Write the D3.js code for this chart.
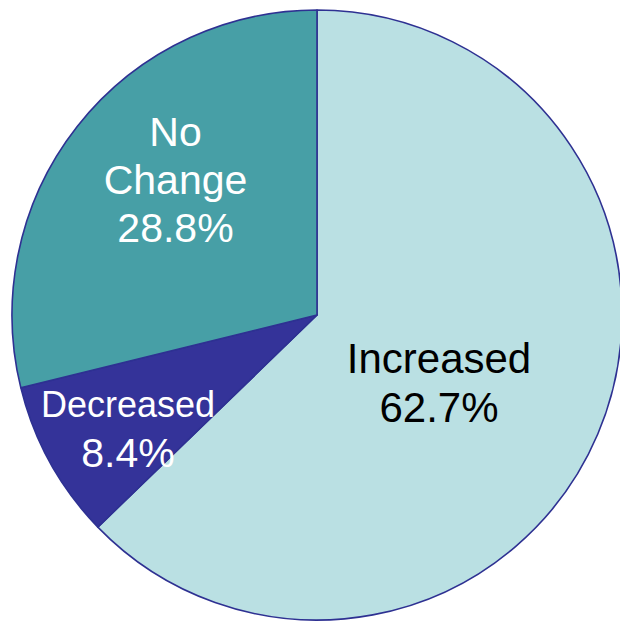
<!DOCTYPE html>
<html>
<head>
<meta charset="utf-8">
<script src="https://cdn.jsdelivr.net/npm/d3@7"></script>
<style>
  body { margin: 0; background: #fff; }
  svg { display: block; }
</style>
</head>
<body>
<div id="chart"></div>
<script>
// data
var categories = ["Increased", "Decreased", "No Change"];
var shares = [62.7, 8.4, 28.8];
var labelLines = [["Increased", "62.7%"], ["Decreased", "8.4%"], ["No", "Change", "28.8%"]];

var width = 620, height = 621;
var cx = 317, cy = 315, radius = 305;

var color = d3.scaleOrdinal()
  .domain(categories)
  .range(["#BAE0E3", "#343399", "#479FA6"]);

// label placement: centre x, first baseline, font size per line, line step, text colour
var labelStyle = {
  "Increased": {x: 439, y: 373, sizes: [42, 42], step: 49, fill: "#000"},
  "Decreased": {x: 128, y: 417, sizes: [36, 41], step: 50, fill: "#fff"},
  "No Change": {x: 175.5, y: 146, sizes: [41, 41, 41], step: 48, fill: "#fff"}
};

var svg = d3.select("#chart").append("svg")
  .attr("width", width)
  .attr("height", height);

var g = svg.append("g")
  .attr("transform", "translate(" + cx + "," + cy + ")");

var data = categories.map(function(c, i) { return {name: c, value: shares[i], lines: labelLines[i]}; });

var pie = d3.pie()
  .sort(null)
  .value(function(d) { return d.value; });

var arc = d3.arc()
  .innerRadius(0)
  .outerRadius(radius);

g.selectAll("path.slice")
  .data(pie(data))
  .join("path")
  .attr("class", "slice")
  .attr("d", arc)
  .attr("fill", function(d) { return color(d.data.name); })
  .attr("stroke", "#2E3192")
  .attr("stroke-width", 1.6)
  .attr("stroke-linejoin", "round");

// labels
data.forEach(function(d) {
  var s = labelStyle[d.name];
  var t = svg.append("text")
    .attr("text-anchor", "middle")
    .style("font-family", "'Liberation Sans', Arial, sans-serif")
    .attr("fill", s.fill);
  d.lines.forEach(function(line, j) {
    t.append("tspan")
      .attr("x", s.x)
      .attr("y", s.y + j * s.step)
      .style("font-size", s.sizes[j] + "px")
      .text(line);
  });
});
</script>
</body>
</html>
